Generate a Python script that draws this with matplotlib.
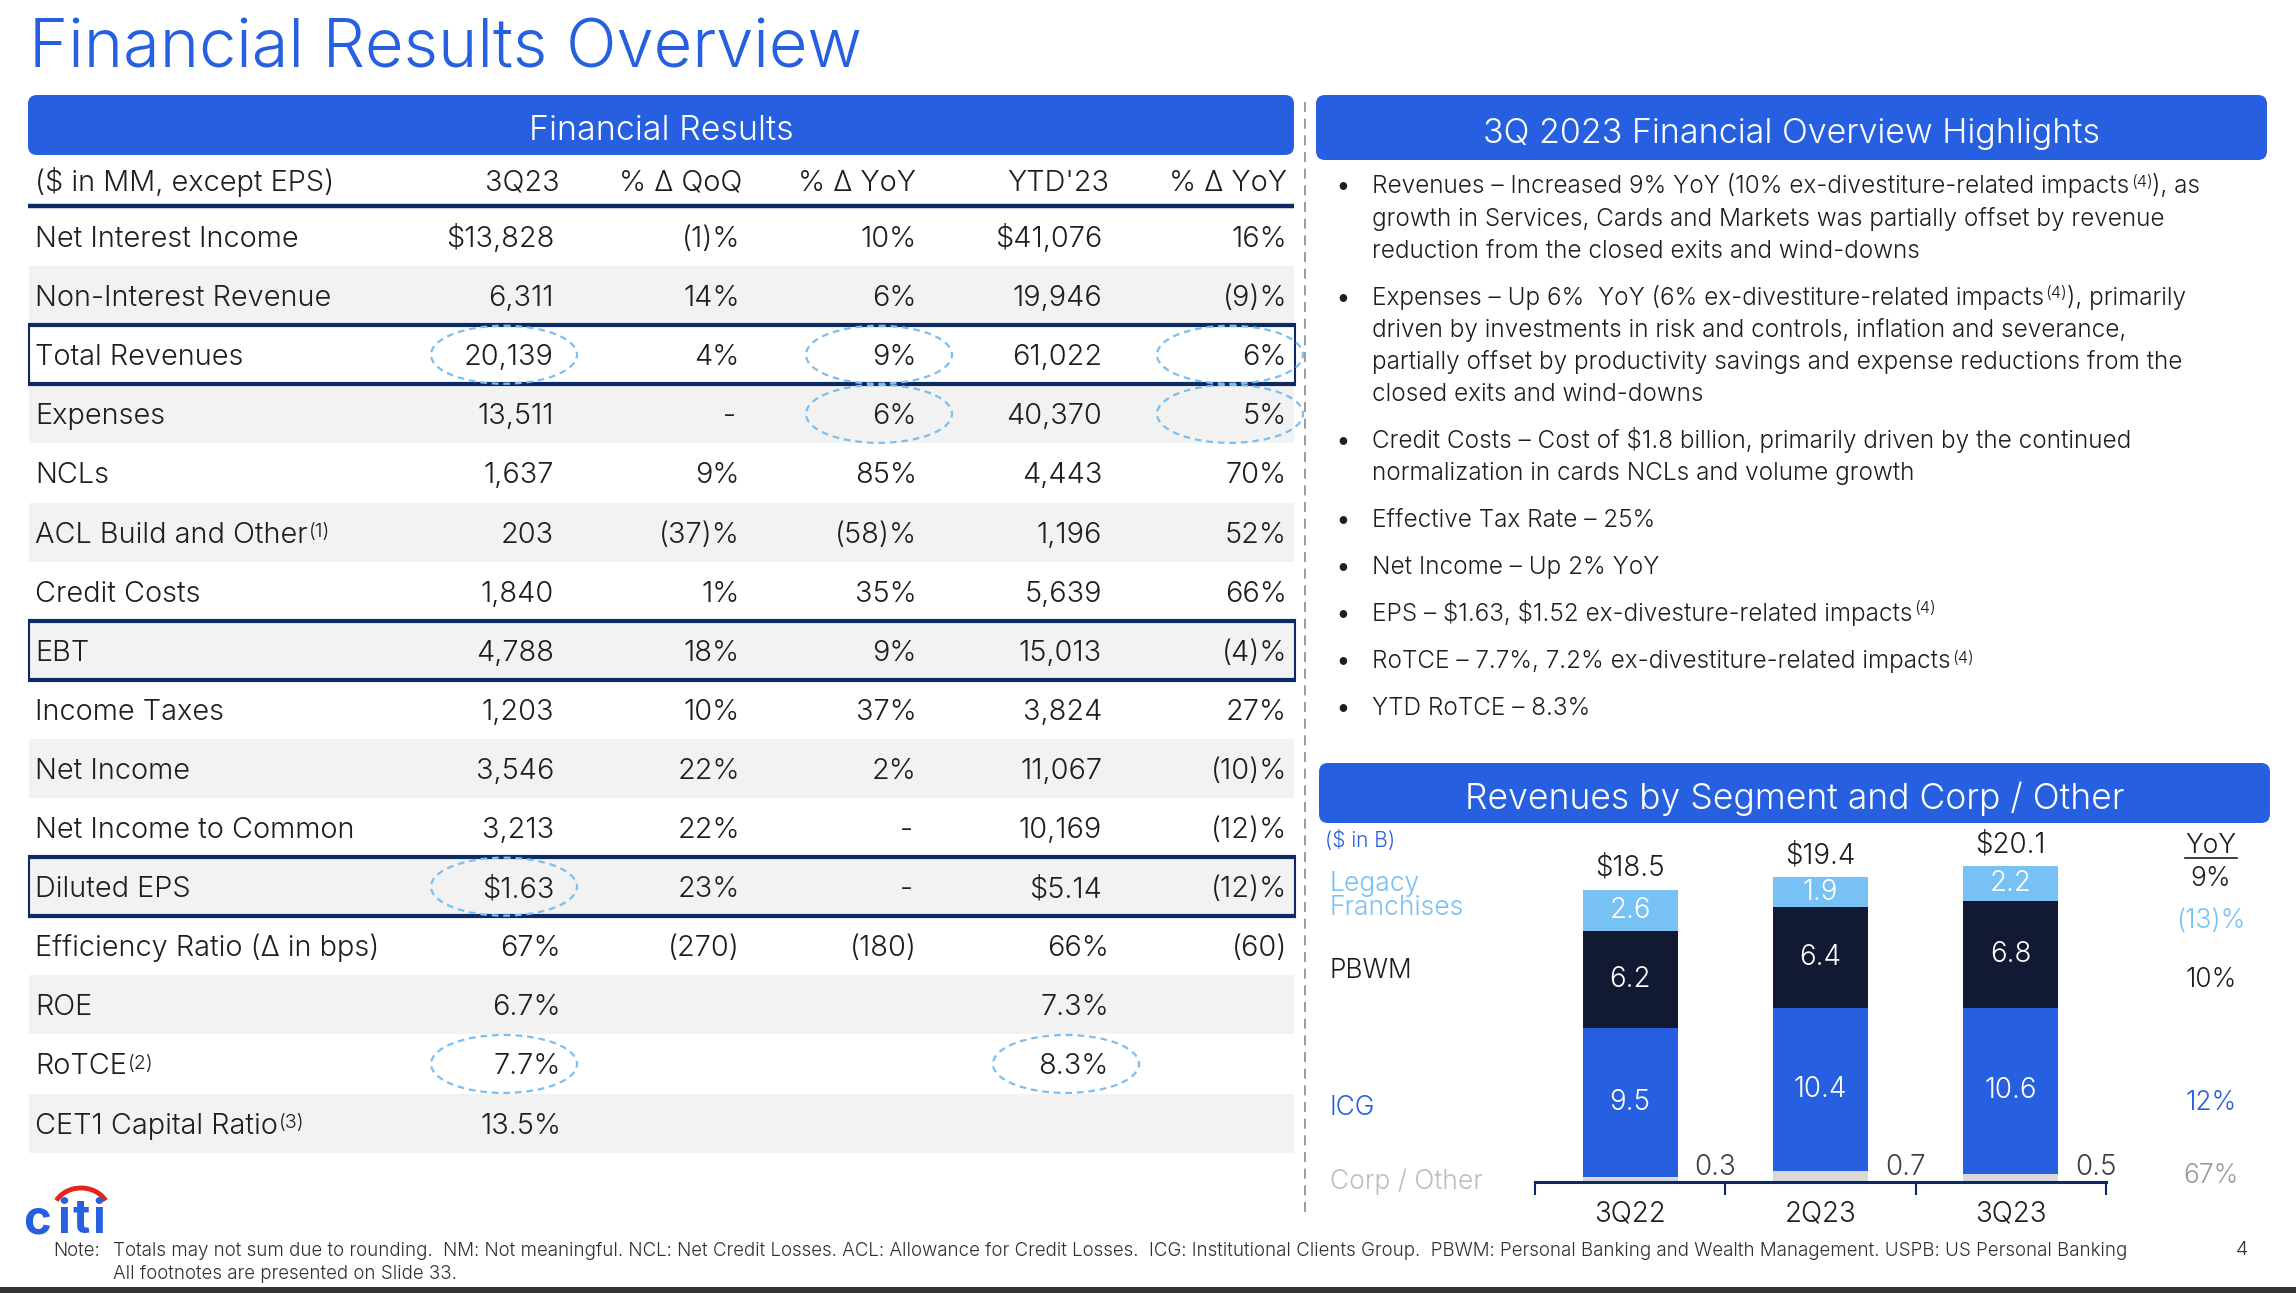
import matplotlib
matplotlib.use("Agg")
import matplotlib.pyplot as plt
from matplotlib.patches import FancyBboxPatch, Rectangle, Ellipse, Arc
import numpy as np

W, H = 2296, 1293
plt.rcParams['font.family'] = ['Inter', 'DejaVu Sans']

# ---------------- data ----------------
row_labels = ["Net Interest Income", "Non-Interest Revenue", "Total Revenues", "Expenses", "NCLs",
              "ACL Build and Other", "Credit Costs", "EBT", "Income Taxes", "Net Income",
              "Net Income to Common", "Diluted EPS", "Efficiency Ratio (\u0394 in bps)", "ROE",
              "RoTCE", "CET1 Capital Ratio"]
row_sups = {5: "(1)", 14: "(2)", 15: "(3)"}
col_headers = ["3Q23", "% \u0394 QoQ", "% \u0394 YoY", "YTD'23", "% \u0394 YoY"]
q3_23 = ["$13,828", "6,311", "20,139", "13,511", "1,637", "203", "1,840", "4,788", "1,203", "3,546",
         "3,213", "$1.63", "67%", "6.7%", "7.7%", "13.5%"]
qoq = ["(1)%", "14%", "4%", "-", "9%", "(37)%", "1%", "18%", "10%", "22%", "22%", "23%", "(270)",
       "", "", ""]
yoy = ["10%", "6%", "9%", "6%", "85%", "(58)%", "35%", "9%", "37%", "2%", "-", "-", "(180)",
       "", "", ""]
ytd = ["$41,076", "19,946", "61,022", "40,370", "4,443", "1,196", "5,639", "15,013", "3,824",
       "11,067", "10,169", "$5.14", "66%", "7.3%", "8.3%", ""]
ytd_yoy = ["16%", "(9)%", "6%", "5%", "70%", "52%", "66%", "(4)%", "27%", "(10)%", "(12)%",
           "(12)%", "(60)", "", "", ""]
boxed_rows = [2, 7, 11]

quarters = ["3Q22", "2Q23", "3Q23"]
corp_other = [0.3, 0.7, 0.5]
icg = [9.5, 10.4, 10.6]
pbwm = [6.2, 6.4, 6.8]
legacy = [2.6, 1.9, 2.2]
total_labels = ["$18.5", "$19.4", "$20.1"]
yoy_total = "9%"
yoy_segments = ["(13)%", "10%", "12%", "67%"]   # Legacy, PBWM, ICG, Corp/Other

# ---------------- style ----------------
BLUE = '#2660E0'
NAVY = '#0B2A66'
DARKBAR = '#121A33'
LIGHT = '#78C1F5'
CORP = '#D9D9D9'
TXT = '#1E1E1E'
GROW = '#F2F2F2'
CIRC = '#7DBEF0'
LW = 300  # light weight
TS = 20.8  # table font size
BS = 20    # bar chart font size

fig = plt.figure(figsize=(W / 100, H / 100), dpi=100)
ax0 = fig.add_axes([0, 0, 1, 1])
ax0.set_xlim(0, W)
ax0.set_ylim(H, 0)
ax0.axis('off')


def T(x, y, s, size=20, color=TXT, ha='left', va='baseline', weight=LW, ax=None, **kw):
    a = ax if ax is not None else ax0
    return a.text(x, y, s, fontsize=size, color=color, ha=ha, va=va, fontweight=weight,
                  parse_math=False, **kw)


def Tc(x, yc, s, size=20, **kw):
    # place text so that cap-height center is at yc (pixel coords)
    return T(x, yc + 0.364 * size * 100 / 72, s, size=size, **kw)


def chain(first, pieces, size, color=TXT):
    prev = first
    for s, sup in pieces:
        if sup:
            prev = ax0.annotate(s, xy=(1, 1), xycoords=(prev, first), xytext=(1, -1),
                                textcoords='offset points', ha='left', va='top',
                                fontsize=size * 0.68, color=color, fontweight=LW,
                                parse_math=False)
        else:
            prev = ax0.annotate(s, xy=(1, 0), xycoords=(prev, first), ha='left', va='bottom',
                                fontsize=size, color=color, fontweight=LW, parse_math=False)
    return prev


# title
T(29, 67, "Financial Results Overview", size=48, color=BLUE)

# header bars
for (x0, y0, x1, y1, label, fs) in [(28, 95, 1294, 155, "Financial Results", 24.5),
                                   (1316, 95, 2267, 160, "3Q 2023 Financial Overview Highlights", 24.5),
                                   (1319, 763, 2270, 823, "Revenues by Segment and Corp / Other", 25.5)]:
    ax0.add_patch(FancyBboxPatch((x0, y0), x1 - x0, y1 - y0,
                                 boxstyle="round,pad=0,rounding_size=9",
                                 fc=BLUE, ec='none', zorder=1))
    Tc((x0 + x1) / 2, (y0 + y1) / 2 + 3, label, size=fs, color='white', ha='center', zorder=2)

# separator
ax0.plot([1305, 1305], [102, 1218], color='#8A8A8A', lw=1.2, ls=(0, (6, 4)))

# ---------------- table ----------------
ROW0, RH = 207.0, 59.1
TX0, TX1 = 28, 1294
cols_x = [554, 740, 917, 1102, 1287]
hdr_x = [560, 742, 916, 1109, 1287]

Tc(35, 180, "($ in MM, except EPS)", size=TS)
for hx, h in zip(hdr_x, col_headers):
    Tc(hx, 180, h, size=TS, ha='right')
ax0.plot([TX0, TX1], [205.5, 205.5], color=NAVY, lw=3.2, solid_capstyle='butt')

cols = [q3_23, qoq, yoy, ytd, ytd_yoy]
for i, lab in enumerate(row_labels):
    top = ROW0 + RH * i
    yc = top + RH / 2
    if i % 2 == 1:
        ax0.add_patch(Rectangle((TX0 + 1, top), TX1 - TX0 - 1, RH, fc=GROW, ec='none', zorder=0))
    t = Tc(35, yc, lab, size=TS)
    if i in row_sups:
        chain(t, [(row_sups[i], True)], TS)
    for c, (cx, vals) in enumerate(zip(cols_x, cols)):
        v = vals[i]
        if not v:
            continue
        x = cx + (7 if (c in (0, 3) and v.endswith('%')) else 0)
        if v == '-':
            x -= 4
        Tc(x, yc, v, size=TS, ha='right')

for i in boxed_rows:
    top = ROW0 + RH * i
    bot = top + RH
    ax0.plot([TX0, TX1 + 2], [top, top], color=NAVY, lw=3.0, solid_capstyle='butt', zorder=3)
    ax0.plot([TX0, TX1 + 2], [bot, bot], color=NAVY, lw=3.0, solid_capstyle='butt', zorder=3)
    ax0.plot([TX0 + 1, TX0 + 1], [top, bot], color=NAVY, lw=1.5, zorder=3)
    ax0.plot([TX1 + 1, TX1 + 1], [top, bot], color=NAVY, lw=1.5, zorder=3)

# dashed highlight circles (row, center x)
for r, cx in [(2, 504), (2, 879), (2, 1230), (3, 879), (3, 1230), (11, 504), (14, 504), (14, 1066)]:
    yc = ROW0 + RH * (r + 0.5)
    ax0.add_patch(Ellipse((cx, yc), 146, 58, fill=False, ec=CIRC, lw=1.6,
                          ls=(0, (3, 2.2)), zorder=4))

# ---------------- highlights ----------------
HS = 17.5
BX, TXX = 1343, 1372
lines = [
    (184.5, True, [("Revenues \u2013 Increased 9% YoY (10% ex-divestiture-related impacts", False),
                   ("(4)", True), ("), as", False)]),
    (216.7, False, [("growth in Services, Cards and Markets was partially offset by revenue", False)]),
    (249.0, False, [("reduction from the closed exits and wind-downs", False)]),
    (296.0, True, [("Expenses \u2013 Up 6%  YoY (6% ex-divestiture-related impacts", False),
                   ("(4)", True), ("), primarily", False)]),
    (328.0, False, [("driven by investments in risk and controls, inflation and severance,", False)]),
    (360.0, False, [("partially offset by productivity savings and expense reductions from the", False)]),
    (392.0, False, [("closed exits and wind-downs", False)]),
    (439.0, True, [("Credit Costs \u2013 Cost of $1.8 billion, primarily driven by the continued", False)]),
    (471.0, False, [("normalization in cards NCLs and volume growth", False)]),
    (518.0, True, [("Effective Tax Rate \u2013 25%", False)]),
    (565.0, True, [("Net Income \u2013 Up 2% YoY", False)]),
    (612.0, True, [("EPS \u2013 $1.63, $1.52 ex-divesture-related impacts", False), ("(4)", True)]),
    (659.0, True, [("RoTCE \u2013 7.7%, 7.2% ex-divestiture-related impacts", False), ("(4)", True)]),
    (706.0, True, [("YTD RoTCE \u2013 8.3%", False)]),
]
for yc, bullet, pieces in lines:
    if bullet:
        Tc(BX, yc, "\u2022", size=HS, ha='center', weight=500)
    t = Tc(TXX, yc, pieces[0][0], size=HS)
    if len(pieces) > 1:
        chain(t, pieces[1:], HS)

# ---------------- bar chart ----------------
BX0, BX1, BBASE, BTOP = 1535, 2106, 1182, 840
PXPER = 15.7
axb = fig.add_axes([BX0 / W, 1 - BBASE / H, (BX1 - BX0) / W, (BBASE - BTOP) / H])
axb.set_xlim(-0.5, 2.5)
axb.set_ylim(0, (BBASE - BTOP) / PXPER)
axb.patch.set_alpha(0)
x = np.arange(len(quarters))
bw = 0.5
corp_a, icg_a, pbwm_a, leg_a = map(np.array, (corp_other, icg, pbwm, legacy))
axb.bar(x, corp_a, bw, color=CORP, zorder=2)
axb.bar(x, icg_a, bw, bottom=corp_a, color=BLUE, zorder=2)
axb.bar(x, pbwm_a, bw, bottom=corp_a + icg_a, color=DARKBAR, zorder=2)
axb.bar(x, leg_a, bw, bottom=corp_a + icg_a + pbwm_a, color=LIGHT, zorder=2)
tot = corp_a + icg_a + pbwm_a + leg_a
for i in range(len(x)):
    for bottom, val in [(corp_a[i], icg_a[i]), (corp_a[i] + icg_a[i], pbwm_a[i]),
                        (corp_a[i] + icg_a[i] + pbwm_a[i], leg_a[i])]:
        axb.text(x[i], bottom + val / 2, f"{val:g}", ha='center', va='center', color='white',
                 fontsize=BS, fontweight=LW)
    axb.annotate(total_labels[i], xy=(x[i], tot[i]), xytext=(0, 6), textcoords='offset points',
                 ha='center', va='bottom', fontsize=BS, fontweight=LW, color=TXT,
                 parse_math=False)
    axb.annotate(f"{corp_a[i]:g}", xy=(x[i] + bw / 2, 0), xytext=(12, 1), textcoords='offset points',
                 ha='left', va='bottom', fontsize=BS, fontweight=LW, color='#404040')

for s in ['top', 'right', 'left']:
    axb.spines[s].set_visible(False)
axb.spines['bottom'].set_color(NAVY)
axb.spines['bottom'].set_linewidth(2.2)
axb.set_yticks([])
axb.set_xticks(x)
axb.set_xticklabels(quarters, fontsize=BS, fontweight=LW, color=TXT)
axb.tick_params(axis='x', which='major', length=0, pad=13)
axb.set_xticks(np.arange(-0.5, len(quarters), 1.0), minor=True)
axb.tick_params(axis='x', which='minor', length=9, width=1.5, color=NAVY, direction='out')

# legend-like labels on the left
LS = 19
Tc(1325, 839, "($ in B)", size=15, color=BLUE)
T(1330, 896, "Legacy\nFranchises", size=LS, color=LIGHT, va='center', linespacing=0.9)
Tc(1330, 968, "PBWM", size=LS, color=TXT)
Tc(1330, 1105, "ICG", size=LS, color=BLUE)
Tc(1330, 1179, "Corp / Other", size=LS, color='#BDBDBD')

# YoY column
YX = 2211
Tc(YX, 843, "YoY", size=LS, ha='center')
ax0.plot([YX - 26, YX + 26], [858, 858], color=TXT, lw=1.2)
Tc(YX, 876, yoy_total, size=LS, ha='center')
for yc, v, colr in zip([918, 977, 1100, 1173], yoy_segments, [LIGHT, TXT, BLUE, '#9A9A9A']):
    Tc(YX, yc, v, size=LS, ha='center', color=colr)

# ---------------- footer ----------------
for ch, cx in zip("citi", [37, 64, 81, 99]):
    T(cx, 1233, ch, size=34, color=BLUE, weight=700, ha='center')
ax0.add_patch(Arc((81, 1212), 56, 48, theta1=205, theta2=335, color='#E4251B', lw=3.5))
FS = 13.5
Tc(53, 1249, "Note:", size=FS, color='#303030')
Tc(113, 1249, "Totals may not sum due to rounding.  NM: Not meaningful. NCL: Net Credit Losses. "
              "ACL: Allowance for Credit Losses.  ICG: Institutional Clients Group.  PBWM: Personal "
              "Banking and Wealth Management. USPB: US Personal Banking", size=FS, color='#303030')
Tc(113, 1272, "All footnotes are presented on Slide 33.", size=FS, color='#303030')
Tc(2242, 1248, "4", size=14, color='#303030', ha='center')
ax0.add_patch(Rectangle((0, 1287), W, 6, fc='#333336', ec='none'))

fig.savefig("out.png", dpi=100)
